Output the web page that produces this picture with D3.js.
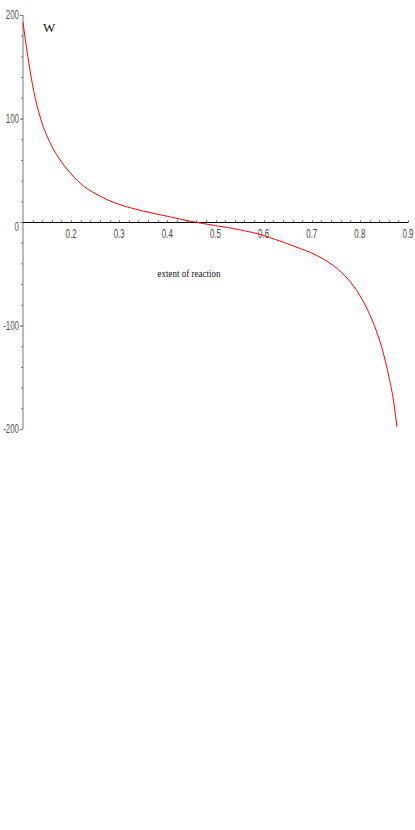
<!DOCTYPE html>
<html><head><meta charset="utf-8">
<script src="https://cdn.jsdelivr.net/npm/d3@7"></script>
<style>
html,body{margin:0;padding:0;background:#fff;}
svg{display:block;}
</style>
</head><body>
<script>
const xi = [0.1, 0.105, 0.11, 0.12, 0.13, 0.14, 0.15, 0.16, 0.18, 0.2, 0.225, 0.25, 0.275, 0.3, 0.325, 0.35, 0.375, 0.4, 0.425, 0.45, 0.475, 0.5, 0.525, 0.55, 0.575, 0.6, 0.625, 0.65, 0.675, 0.7, 0.725, 0.75, 0.775, 0.8, 0.82, 0.84, 0.85, 0.86, 0.87, 0.877];
const W  = [193, 176, 160, 132, 111, 95, 83, 73, 58, 46.5, 35, 27.5, 21.5, 17, 13.5, 10.5, 8, 5.5, 3, 0.5, -1.5, -3.5, -5.3, -7.5, -10, -13, -17, -21, -25.5, -30, -36, -44, -55, -71, -89, -113, -129, -149, -173, -198];
const xTickLabels = [0.2, 0.3, 0.4, 0.5, 0.6, 0.7, 0.8, 0.9];
const yTickLabels = [-200, -100, 0, 100, 200];
const yLabel = "W";
const xLabel = "extent of reaction";

const width = 415, height = 830;
const svg = d3.select("body").append("svg").attr("width", width).attr("height", height);

const x = d3.scaleLinear().domain([0.1, 0.9]).range([23, 408]);
const y = d3.scaleLinear().domain([-200, 200]).range([429, 15]);

const tickFont = '"Liberation Sans",Arial,sans-serif';
const narrow = 0.66;

// minor ticks
const xMinor = d3.range(0.12, 0.9001, 0.02);
const yMinor = d3.range(-200, 200.001, 20);

// y axis
const gy = svg.append("g").attr("transform", `translate(${x(0.1)},0)`);
gy.append("line").attr("x1", 0).attr("x2", 0).attr("y1", y(-200)).attr("y2", y(200)).attr("stroke", "#777");
gy.selectAll("line.minor").data(yMinor).join("line").attr("class", "minor")
  .attr("x1", -2).attr("x2", 0).attr("y1", d => y(d) + 0.5).attr("y2", d => y(d) + 0.5).attr("stroke", "#777");
gy.selectAll("line.major").data(yTickLabels).join("line").attr("class", "major")
  .attr("x1", -3).attr("x2", 0).attr("y1", d => y(d) + 0.5).attr("y2", d => y(d) + 0.5).attr("stroke", "#777");
gy.selectAll("text").data(yTickLabels).join("text")
  .attr("transform", d => `translate(-4,${y(d) + (d === 0 ? 5 : 0)}) scale(${narrow},1)`)
  .attr("dy", "0.35em")
  .attr("text-anchor", "end")
  .style("font-family", tickFont)
  .style("font-size", "12px").attr("fill", "#555")
  .text(d => d);

// x axis
const gx = svg.append("g").attr("transform", `translate(0,${y(0) + 0.5})`);
gx.append("line").attr("x1", x(0.1)).attr("x2", x(0.9)).attr("y1", 0).attr("y2", 0).attr("stroke", "#000");
gx.selectAll("line.minor").data(xMinor).join("line").attr("class", "minor")
  .attr("x1", d => Math.round(x(d)) + 0.5).attr("x2", d => Math.round(x(d)) + 0.5).attr("y1", -2).attr("y2", 0).attr("stroke", "#555");
gx.selectAll("text").data(xTickLabels).join("text")
  .attr("transform", d => `translate(${x(d)},11) scale(${narrow},1)`)
  .attr("dy", "0.35em")
  .attr("text-anchor", "middle")
  .style("font-family", tickFont)
  .style("font-size", "12px").attr("fill", "#444")
  .text(d => d.toFixed(1));

// curve
const pts = xi.map((v, i) => [v, W[i]]);
svg.append("path").datum(pts)
  .attr("fill", "none").attr("stroke", "#ff0000").attr("stroke-width", 1)
  .attr("d", d3.line().x(d => x(d[0])).y(d => y(d[1])).curve(d3.curveMonotoneX));

// labels
svg.append("text").attr("x", 43).attr("y", 32)
  .style("font-family", '"Liberation Serif","Times New Roman",serif').style("font-size", "13px")
  .attr("fill", "#111").text(yLabel);
svg.append("text").attr("transform", "translate(189,277) scale(0.9,1)").attr("text-anchor", "middle")
  .style("font-family", '"Liberation Serif","Times New Roman",serif').style("font-size", "10px")
  .attr("fill", "#111").text(xLabel);
</script>
</body></html>
